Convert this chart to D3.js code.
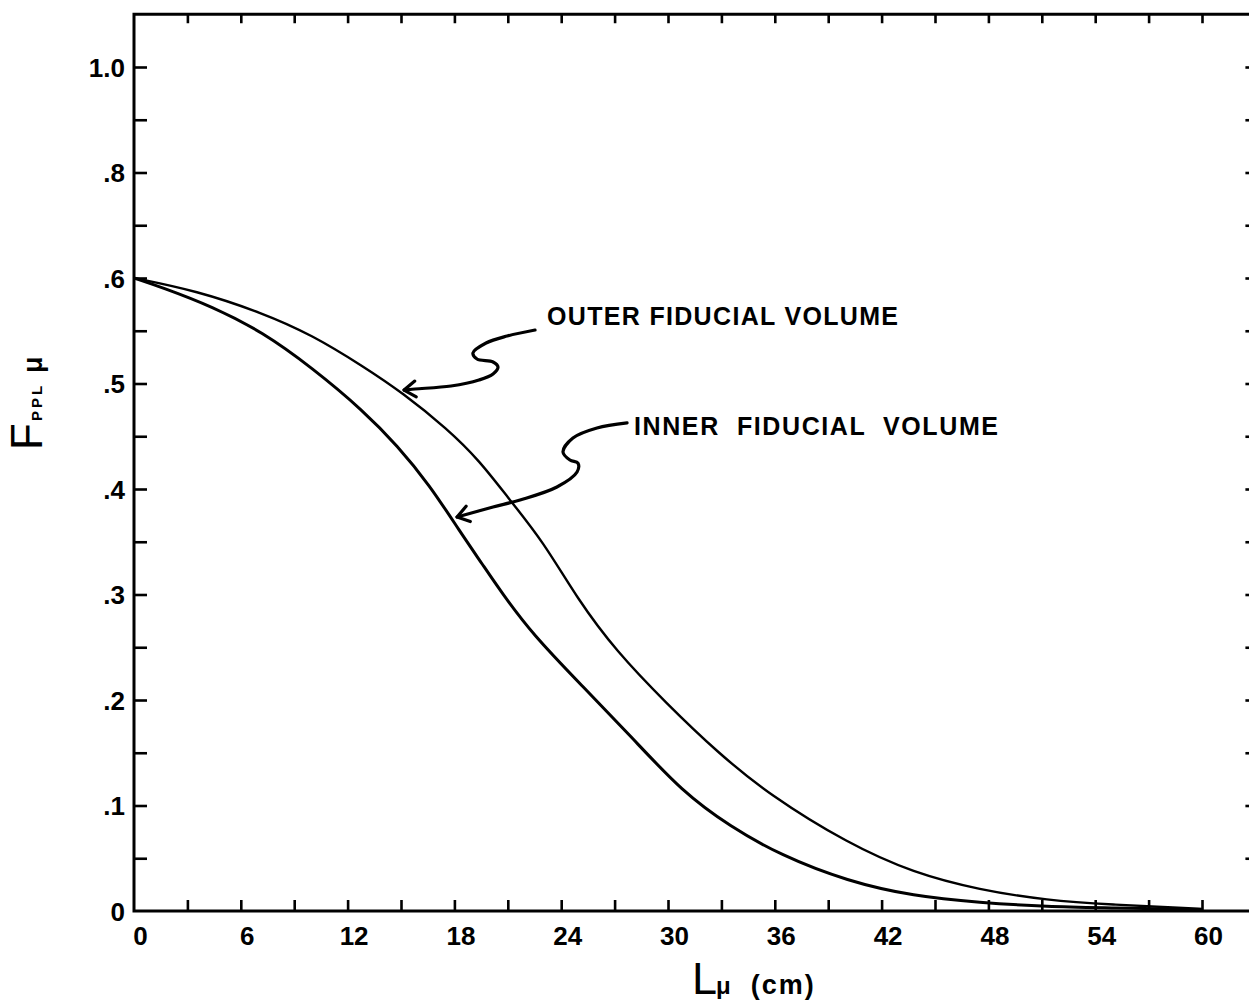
<!DOCTYPE html>
<html><head><meta charset="utf-8">
<script src="https://cdn.jsdelivr.net/npm/d3@7"></script>
<style>body{margin:0;background:#fff} svg{display:block;background:#fff}</style>
</head><body>
<svg id="c" width="1249" height="1005"></svg>
<script>
// ---- data ----
const outerL = [0, 3.5, 7.2, 10, 12.9, 15.1, 17.6, 19.4, 21, 23, 24.9, 27.1, 29.9, 32.8, 35.7, 40.1, 43.8, 47.5, 51.3, 55, 58.8, 60];
const outerF = [0.600, 0.588, 0.567, 0.546, 0.516, 0.491, 0.457, 0.427, 0.392, 0.350, 0.296, 0.246, 0.197, 0.150, 0.110, 0.064, 0.036, 0.020, 0.010, 0.006, 0.003, 0.002];
const innerL = [0, 1.6, 4.4, 7.2, 10, 12.9, 14.8, 16.6, 18.3, 19.6, 20.6, 22.4, 25.2, 28, 30.8, 33.5, 36.3, 40.1, 43.8, 47.5, 51.3, 55, 60];
const innerF = [0.600, 0.591, 0.573, 0.549, 0.515, 0.474, 0.441, 0.404, 0.360, 0.328, 0.303, 0.262, 0.213, 0.164, 0.113, 0.080, 0.053, 0.028, 0.014, 0.008, 0.004, 0.003, 0.001];

const xTickValues = [0, 6, 12, 18, 24, 30, 36, 42, 48, 54, 60];
const xTickLabels = ["0", "6", "12", "18", "24", "30", "36", "42", "48", "54", "60"];
const xMinorTicks = d3.range(3, 61, 3);
const yTickValues = [0, 0.1, 0.2, 0.3, 0.4, 0.5, 0.6, 0.7, 0.8];
const yTickLabels = ["0", ".1", ".2", ".3", ".4", ".5", ".6", ".8", "1.0"];
const yMinorTicks = d3.range(1, 17).map(i => +(i * 0.05).toFixed(2));

const outerLabel = "OUTER FIDUCIAL VOLUME";
const innerLabel = "INNER  FIDUCIAL  VOLUME";
// annotation arrows, in data units [L, F]
const outerArrow = [[22.53,0.5507],[20.96,0.5450],[19.78,0.5384],[19.04,0.5289],[19.27,0.5232],[20.17,0.5204],[20.45,0.5156],[20.17,0.5090],[19.38,0.5033],[17.81,0.4976],[15.79,0.4948],[15.17,0.4938]];
const innerArrow = [[27.70,0.4626],[26.01,0.4578],[24.66,0.4483],[24.10,0.4351],[24.49,0.4275],[24.94,0.4246],[24.89,0.4161],[23.76,0.4019],[21.69,0.3896],[20.17,0.3829],[18.15,0.3735]];

// ---- scales ----
const x = d3.scaleLinear().domain([0, 60]).range([134, 1202]);
const y = d3.scaleLinear().domain([0, 0.8]).range([911, 67]);
const xMax = 63, yMax = 0.85;

const svg = d3.select("#c");
const font = "'Liberation Sans', Arial, sans-serif";

// frame
svg.append("rect")
  .attr("x", x(0)).attr("y", y(yMax))
  .attr("width", x(xMax) - x(0)).attr("height", y(0) - y(yMax))
  .attr("fill", "none").attr("stroke", "#000").attr("stroke-width", 3);

function styleAxis(g) {
  g.select(".domain").remove();
  g.selectAll(".tick line").attr("stroke", "#000").attr("stroke-width", 2.6);
  g.selectAll(".tick text").attr("fill", "#000").attr("font-family", font)
    .attr("font-weight", "bold").attr("font-size", 26);
}

// bottom axis
svg.append("g").attr("transform", `translate(0,${y(0)})`)
  .call(d3.axisBottom(x).tickValues(xMinorTicks).tickSizeInner(-11).tickSizeOuter(0).tickFormat(""))
  .call(styleAxis);
svg.append("g").attr("transform", `translate(0,${y(0)})`)
  .call(d3.axisBottom(x).tickValues(xTickValues).tickSizeInner(0).tickSizeOuter(0).tickPadding(16)
        .tickFormat((d, i) => xTickLabels[i]))
  .call(styleAxis)
  .selectAll(".tick text").attr("dx", 6);
// top axis ticks
svg.append("g").attr("transform", `translate(0,${y(yMax)})`)
  .call(d3.axisTop(x).tickValues(xMinorTicks).tickSizeInner(-9).tickSizeOuter(0).tickFormat(""))
  .call(styleAxis);
// left axis
svg.append("g").attr("transform", `translate(${x(0)},0)`)
  .call(d3.axisLeft(y).tickValues(yMinorTicks).tickSizeInner(-13).tickSizeOuter(0).tickFormat(""))
  .call(styleAxis);
svg.append("g").attr("transform", `translate(${x(0)},0)`)
  .call(d3.axisLeft(y).tickValues(yTickValues).tickSizeInner(0).tickSizeOuter(0).tickPadding(9)
        .tickFormat((d, i) => yTickLabels[i]))
  .call(styleAxis)
  .selectAll(".tick text").attr("dy", "0.36em");
// right axis ticks
svg.append("g").attr("transform", `translate(${x(xMax)},0)`)
  .call(d3.axisRight(y).tickValues(yMinorTicks).tickSizeInner(-10).tickSizeOuter(0).tickFormat(""))
  .call(styleAxis);

// curves
const line = d3.line().x(d => x(d[0])).y(d => y(d[1])).curve(d3.curveBasis);
svg.append("path").datum(outerL.map((l, i) => [l, outerF[i]]))
  .attr("d", line).attr("fill", "none").attr("stroke", "#000").attr("stroke-width", 2.4)
  .attr("stroke-linejoin", "round");
svg.append("path").datum(innerL.map((l, i) => [l, innerF[i]]))
  .attr("d", line).attr("fill", "none").attr("stroke", "#000").attr("stroke-width", 3)
  .attr("stroke-linejoin", "round");

// annotation arrows
const aline = d3.line().x(d => x(d[0])).y(d => y(d[1])).curve(d3.curveCatmullRom.alpha(0.5));
function arrow(pts) {
  svg.append("path").datum(pts).attr("d", aline).attr("fill", "none")
    .attr("stroke", "#000").attr("stroke-width", 3.2).attr("stroke-linecap", "round");
  const p1 = pts[pts.length - 2], p2 = pts[pts.length - 1];
  const tx = x(p2[0]), ty = y(p2[1]);
  const ang = Math.atan2(ty - y(p1[1]), tx - x(p1[0]));
  const L = 14, a = 0.6;
  const b1 = [tx - L * Math.cos(ang - a), ty - L * Math.sin(ang - a)];
  const b2 = [tx - L * Math.cos(ang + a), ty - L * Math.sin(ang + a)];
  svg.append("path").attr("d", `M${b1[0]},${b1[1]}L${tx},${ty}L${b2[0]},${b2[1]}`)
    .attr("fill", "none").attr("stroke", "#000").attr("stroke-width", 3.2)
    .attr("stroke-linecap", "round").attr("stroke-linejoin", "round");
}
arrow(outerArrow);
arrow(innerArrow);

// labels
svg.append("text").attr("x", 547).attr("y", 325).attr("font-family", font).attr("font-weight", "bold")
  .attr("font-size", 25).attr("textLength", 351).attr("lengthAdjust", "spacing").text(outerLabel);
svg.append("text").attr("x", 634).attr("y", 435).attr("font-family", font).attr("font-weight", "bold")
  .attr("font-size", 25).attr("textLength", 364).attr("lengthAdjust", "spacing")
  .attr("xml:space", "preserve").style("white-space", "pre").text(innerLabel);

// axis titles
const xt = svg.append("text").attr("x", 692).attr("y", 994).attr("font-family", font).attr("fill", "#000");
xt.append("tspan").attr("font-size", 45).text("L");
xt.append("tspan").attr("font-size", 24).attr("font-weight", "bold").attr("dx", -1).text("μ");
xt.append("tspan").attr("font-size", 27).attr("font-weight", "bold").attr("dx", 20).attr("letter-spacing", 2).text("(cm)");

const yt = svg.append("text").attr("transform", "translate(42,450) rotate(-90)")
  .attr("font-family", font).attr("fill", "#000");
yt.append("tspan").attr("font-size", 44).text("F");
yt.append("tspan").attr("font-size", 15).attr("font-weight", "bold").attr("dx", 2).attr("letter-spacing", 3).text("PPL");
yt.append("tspan").attr("font-size", 27).attr("font-weight", "bold").attr("dx", 10).text("μ");
</script>
</body></html>
